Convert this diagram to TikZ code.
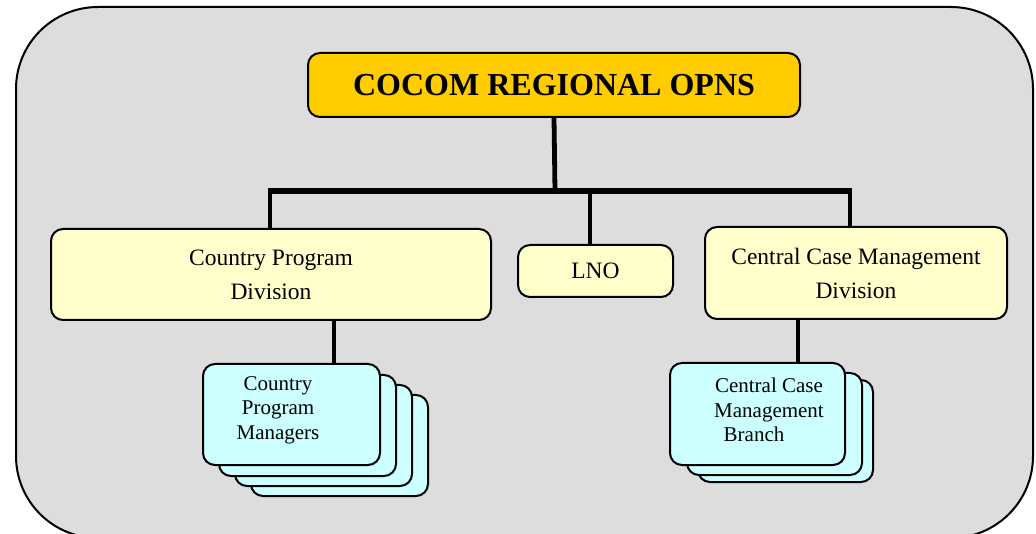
\documentclass[tikz,border=0pt]{standalone}
\usepackage{fontspec}
\setmainfont{Liberation Serif}
\definecolor{bgGray}{HTML}{DDDDDD}
\definecolor{gold}{HTML}{FFCC00}
\definecolor{paleYellow}{HTML}{FFFFCC}
\definecolor{paleCyan}{HTML}{CCFFFF}
\begin{document}
\begin{tikzpicture}[x=1pt,y=-1pt,
  box/.style={draw=black, line width=2pt, rounded corners=12pt, inner sep=0pt, align=center, text=black},
  headbox/.style={box, fill=gold, font=\fontsize{32}{38}\selectfont\bfseries},
  divbox/.style={box, fill=paleYellow, font=\fontsize{23.5}{34}\selectfont},
  cyanbox/.style={box, fill=paleCyan, minimum width=177pt, minimum height=101pt},
  cyantext/.style={align=center, inner sep=0pt, font=\fontsize{21}{24.5}\selectfont},
  link/.style={line width=4.8pt, black},
  barline/.style={line width=6pt, black}]
\useasboundingbox (0,0) rectangle (1036,534);
\begin{scope}
\clip (0,0) rectangle (1036,534);
\fill[white] (0,0) rectangle (1036,534);
\draw[fill=bgGray, line width=2pt, rounded corners=82pt] (16,7) rectangle (1033,538);
\end{scope}

% top
\node[headbox, minimum width=492pt, minimum height=64pt] (top) at (554,85) {COCOM REGIONAL OPNS};

% divisions
\node[divbox, minimum width=440pt, minimum height=91pt] (cpd) at (271,274.5) {Country Program\\Division};
\node[divbox, minimum width=155pt, minimum height=52pt] (lno) at (595.5,271) {LNO};
\node[divbox, minimum width=302pt, minimum height=92pt] (ccmd) at (856,273) {Central Case Management\\Division};

% stacks
\node[cyanbox] (cpm4) at (339.5,445.5) {};
\node[cyanbox] (cpm3) at (323.5,435.5) {};
\node[cyanbox] (cpm2) at (307.5,425.5) {};
\node[cyanbox] (cpm) at (291.5,414.5) {};
\node[cyantext] (cpmtext) at (278,410) {Country\\Program\\Managers};

\node[cyanbox, minimum width=175pt, minimum height=102pt] (ccmb3) at (785.5,431) {};
\node[cyanbox, minimum width=175pt, minimum height=102pt] (ccmb2) at (774.5,424) {};
\node[cyanbox, minimum width=175pt, minimum height=102pt] (ccmb) at (757.5,414) {};
\node[cyantext] (ccmbtext) at (769,410) {Central Case\\Management\\Branch\hspace*{30pt}};

% connectors
\coordinate (barL) at (270,191);
\coordinate (barM) at (555,191);
\coordinate (lnoDrop) at (590,191);
\coordinate (barR) at (850,191);
\coordinate (cpmTop) at (334,364);
\coordinate (ccmbTop) at (798,363);

\draw[link] (top.south) -- (barM);
\draw[barline] ([xshift=-2.4pt]barL) -- ([xshift=2.4pt]barR);
\draw[link] (barL) -- (barL |- cpd.north);
\draw[link] (lnoDrop) -- (lnoDrop |- lno.north);
\draw[link] (barR) -- (barR |- ccmd.north);
\draw[link] (cpmTop |- cpd.south) -- (cpmTop);
\draw[link] (ccmbTop |- ccmd.south) -- (ccmbTop);
\end{tikzpicture}
\end{document}
